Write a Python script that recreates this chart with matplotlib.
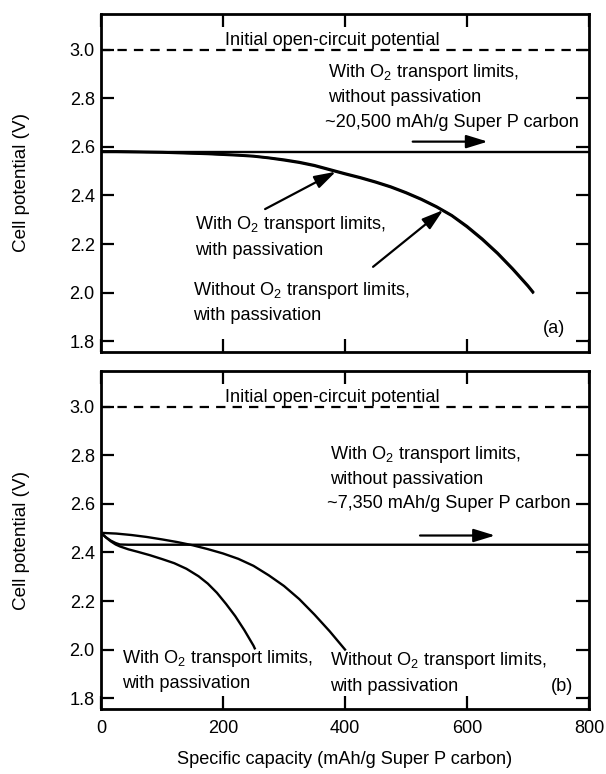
import matplotlib
matplotlib.use("Agg")
import matplotlib.pyplot as plt

plt.rcParams['font.family'] = ['Liberation Sans', 'DejaVu Sans']
plt.rcParams['mathtext.default'] = 'regular'

# ---- data ----------------------------------------------------------------
OCV = 3.0

# panel (a)
CAP_A_FLAT = [0, 800]
V_A_FLAT = [2.581, 2.581]
CAP_A_PASS = [0, 25, 50, 75, 100, 125, 150, 175, 200, 225, 250, 275, 300, 325, 350, 375,
              400, 425, 450, 475, 500, 525, 550, 575, 600, 625, 650, 675, 700, 708]
V_A_O2_PASS = [2.580, 2.580, 2.579, 2.578, 2.577, 2.575, 2.573, 2.571, 2.568, 2.565, 2.561,
               2.554, 2.545, 2.535, 2.522, 2.505, 2.488, 2.472, 2.454, 2.434, 2.410, 2.383,
               2.352, 2.316, 2.270, 2.218, 2.160, 2.095, 2.025, 2.000]
V_A_NOO2_PASS = [2.582, 2.582, 2.581, 2.580, 2.579, 2.577, 2.575, 2.573, 2.570, 2.567, 2.563,
                 2.556, 2.548, 2.538, 2.525, 2.508, 2.491, 2.475, 2.457, 2.437, 2.413, 2.386,
                 2.355, 2.319, 2.274, 2.222, 2.164, 2.099, 2.029, 2.004]

# panel (b)
CAP_B_FLAT = [0, 8, 16, 24, 31, 45, 800]
V_B_FLAT = [2.481, 2.463, 2.449, 2.439, 2.433, 2.432, 2.432]
CAP_B_O2_PASS = [0, 8, 16, 24, 31, 45, 60, 80, 100, 120, 140, 160, 175, 190, 205, 220, 235, 250, 252]
V_B_O2_PASS = [2.481, 2.462, 2.446, 2.433, 2.425, 2.413, 2.403, 2.389, 2.373, 2.356, 2.333,
               2.302, 2.272, 2.234, 2.188, 2.138, 2.080, 2.016, 2.005]
CAP_B_NOO2_PASS = [0, 25, 50, 75, 100, 125, 150, 175, 200, 225, 250, 275, 300, 325, 350, 375, 397, 400]
V_B_NOO2_PASS = [2.481, 2.478, 2.472, 2.464, 2.454, 2.443, 2.430, 2.414, 2.396, 2.374, 2.345,
                 2.306, 2.262, 2.208, 2.144, 2.075, 2.009, 2.000]

XTICKS = [0, 200, 400, 600, 800]
YTICKS = [1.8, 2.0, 2.2, 2.4, 2.6, 2.8, 3.0]

FS = 13.1

fig = plt.figure(figsize=(6.06, 7.74), dpi=100)
ax_a = fig.add_axes([101/606, 1-352/774, 488/606, 338/774])
ax_b = fig.add_axes([101/606, 1-709/774, 488/606, 338/774])

for ax in (ax_a, ax_b):
    ax.set_xlim(0, 800)
    ax.set_ylim(1.755, 3.148)
    ax.set_xticks(XTICKS)
    ax.set_yticks(YTICKS)
    ax.set_yticklabels([f"{v:.1f}" for v in YTICKS], fontsize=FS)
    ax.tick_params(direction='in', length=9.5, width=1.6, top=True, right=True)
    ax.tick_params(axis='y', pad=4.5)
    ax.tick_params(axis='x', pad=8.0)
    for s in ax.spines.values():
        s.set_linewidth(2.0)
    ax.axhline(OCV, color='k', lw=1.6, dashes=(4.2, 3.2))
    ax.text(203, 3.02, 'Initial open-circuit potential', fontsize=FS, va='baseline')

ax_a.set_xticklabels([])
ax_b.set_xticklabels([str(v) for v in XTICKS], fontsize=FS)

arrow = dict(arrowstyle='-|>,head_length=0.65,head_width=0.2', mutation_scale=20,
             lw=1.6, color='k', shrinkA=0, shrinkB=0)

# ---- panel (a) -----------------------------------------------------------
ax_a.plot(CAP_A_FLAT, V_A_FLAT, color='k', lw=1.7)
ax_a.plot(CAP_A_PASS, V_A_O2_PASS, color='k', lw=1.8)
ax_a.plot(CAP_A_PASS, V_A_NOO2_PASS, color='k', lw=1.8)

ax_a.text(372, 2.888, 'With O$_2$ transport limits,', fontsize=FS, va='baseline')
ax_a.text(372, 2.787, 'without passivation', fontsize=FS, va='baseline')
ax_a.text(368, 2.681, '~20,500 mAh/g Super P carbon', fontsize=FS, va='baseline')
ax_a.annotate('', xy=(634, 2.622), xytext=(511, 2.622), arrowprops=arrow)

ax_a.text(154, 2.261, 'With O$_2$ transport limits,', fontsize=FS, va='baseline')
ax_a.text(154, 2.155, 'with passivation', fontsize=FS, va='baseline')
ax_a.annotate('', xy=(385, 2.498), xytext=(269, 2.344), arrowprops=arrow)

ax_a.text(151, 1.990, 'Without O$_2$ transport limits,', fontsize=FS, va='baseline')
ax_a.text(151, 1.887, 'with passivation', fontsize=FS, va='baseline')
ax_a.annotate('', xy=(561, 2.340), xytext=(446, 2.106), arrowprops=arrow)

ax_a.text(743, 1.833, '(a)', fontsize=FS, va='baseline', ha='center')

# ---- panel (b) -----------------------------------------------------------
ax_b.plot(CAP_B_FLAT, V_B_FLAT, color='k', lw=1.7)
ax_b.plot(CAP_B_O2_PASS, V_B_O2_PASS, color='k', lw=1.7)
ax_b.plot(CAP_B_NOO2_PASS, V_B_NOO2_PASS, color='k', lw=1.7)

ax_b.text(375, 2.786, 'With O$_2$ transport limits,', fontsize=FS, va='baseline')
ax_b.text(375, 2.683, 'without passivation', fontsize=FS, va='baseline')
ax_b.text(371, 2.584, '~7,350 mAh/g Super P carbon', fontsize=FS, va='baseline')
ax_b.annotate('', xy=(646, 2.47), xytext=(523, 2.47), arrowprops=arrow)

ax_b.text(34, 1.945, 'With O$_2$ transport limits,', fontsize=FS, va='baseline')
ax_b.text(34, 1.840, 'with passivation', fontsize=FS, va='baseline')
ax_b.text(375, 1.937, 'Without O$_2$ transport limits,', fontsize=FS, va='baseline')
ax_b.text(375, 1.830, 'with passivation', fontsize=FS, va='baseline')
ax_b.text(756, 1.830, '(b)', fontsize=FS, va='baseline', ha='center')

# ---- axis labels ---------------------------------------------------------
fig.text(22/606, 1-183/774, 'Cell potential (V)', rotation=90, ha='center', va='center', fontsize=13.6)
fig.text(22/606, 1-540/774, 'Cell potential (V)', rotation=90, ha='center', va='center', fontsize=13.6)
fig.text(345/606, 1-760/774, 'Specific capacity (mAh/g Super P carbon)', ha='center', va='center', fontsize=FS)

fig.savefig('out.png', dpi=100)
